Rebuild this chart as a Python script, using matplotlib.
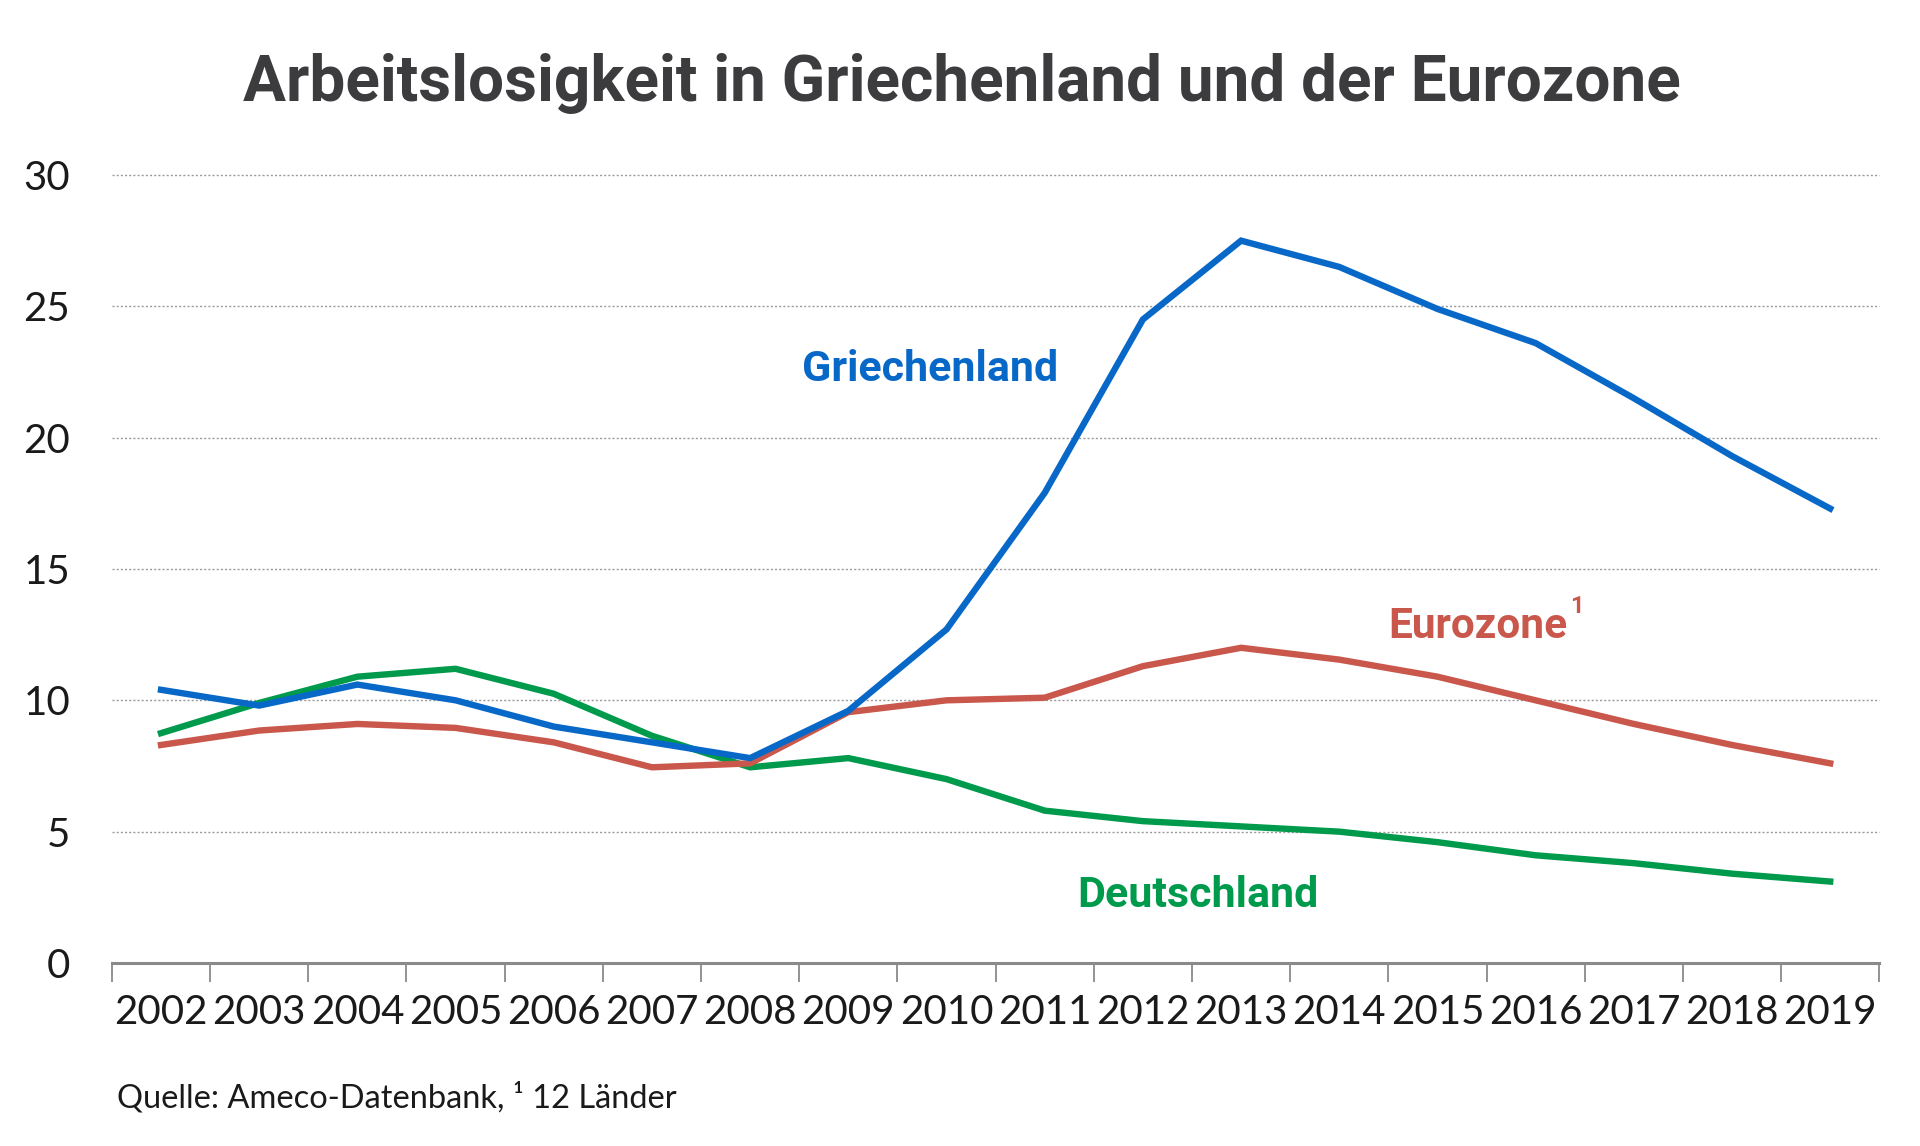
import matplotlib
matplotlib.use("Agg")
import matplotlib.pyplot as plt
import numpy as np

years = [str(y) for y in range(2002, 2020)]
griechenland = [10.4, 9.8, 10.6, 10.0, 9.0, 8.4, 7.8, 9.6, 12.7, 17.9, 24.5, 27.5, 26.5, 24.9, 23.6, 21.5, 19.3, 17.3]
eurozone = [8.3, 8.85, 9.1, 8.95, 8.4, 7.45, 7.6, 9.55, 10.0, 10.1, 11.3, 12.0, 11.55, 10.9, 10.0, 9.1, 8.3, 7.6]
deutschland = [8.75, 9.9, 10.9, 11.2, 10.25, 8.65, 7.45, 7.8, 7.0, 5.8, 5.4, 5.2, 5.0, 4.6, 4.1, 3.8, 3.4, 3.1]
y_ticks = [0, 5, 10, 15, 20, 25, 30]

C_BLUE = "#0868C8"
C_RED = "#C9574B"
C_GREEN = "#009A4C"
C_TITLE = "#3C3B3E"
C_TEXT = "#1a1a1a"

fig = plt.figure(figsize=(19.2, 11.46), dpi=100)
ax = fig.add_axes([0.0583, 0.1597, 0.9205, 0.6876])

x = np.arange(len(years))
ax.plot(x, deutschland, color=C_GREEN, lw=4.6, solid_joinstyle="miter", zorder=3)
ax.plot(x, eurozone, color=C_RED, lw=4.6, solid_joinstyle="miter", zorder=4)
ax.plot(x, griechenland, color=C_BLUE, lw=4.6, solid_joinstyle="miter", zorder=5)

ax.set_xlim(-0.5, len(years) - 0.5)
ax.set_ylim(0, 30)

for v in y_ticks[1:]:
    ax.axhline(v, color="#9a9a9a", lw=1.0, ls=(0, (1.5, 1.5)), zorder=1, clip_on=False)

ax.set_yticks(y_ticks)
ax.set_yticklabels([str(v) for v in y_ticks], fontfamily="Lato", fontweight="normal", fontsize=29, color=C_TEXT)
ax.tick_params(axis="y", length=0, pad=30)

ax.set_xticks(x)
ax.set_xticklabels(years, fontfamily="Lato", fontweight="normal", fontsize=29, color=C_TEXT)
ax.tick_params(axis="x", which="major", length=0, pad=22)
ax.set_xticks(np.arange(-0.5, len(years)), minor=True)
ax.tick_params(axis="x", which="minor", length=14, width=1.3, color="#8a8a8a", direction="out")

for s in ["top", "right", "left"]:
    ax.spines[s].set_visible(False)
ax.spines["bottom"].set_color("#8a8a8a")
ax.spines["bottom"].set_linewidth(2.2)

ax.text(7.83, 22.6, "Griechenland", color=C_BLUE, fontsize=31, fontweight="bold",
        fontfamily="Roboto", ha="center", va="center")
t = ax.text(12.5, 12.8, "Eurozone", color=C_RED, fontsize=30.5, fontweight="bold",
            fontfamily="Roboto", ha="left", va="center")
ax.annotate("1", xy=(1, 0.72), xycoords=t, xytext=(2, 0), textcoords="offset points",
            color=C_RED, fontsize=17, fontweight="bold", fontfamily="Roboto",
            ha="left", va="bottom")
ax.text(10.56, 2.56, "Deutschland", color=C_GREEN, fontsize=31, fontweight="bold",
        fontfamily="Roboto", ha="center", va="center")

fig.text(0.501, 0.927, "Arbeitslosigkeit in Griechenland und der Eurozone", color=C_TITLE,
         fontsize=46, fontweight="bold", fontfamily="Roboto", ha="center", va="center")

fig.text(0.061, 0.042, "Quelle: Ameco-Datenbank, ¹ 12 Länder", color=C_TEXT,
         fontsize=23.5, fontfamily="Lato", ha="left", va="center")

fig.savefig("out.png", dpi=100, facecolor="white")
